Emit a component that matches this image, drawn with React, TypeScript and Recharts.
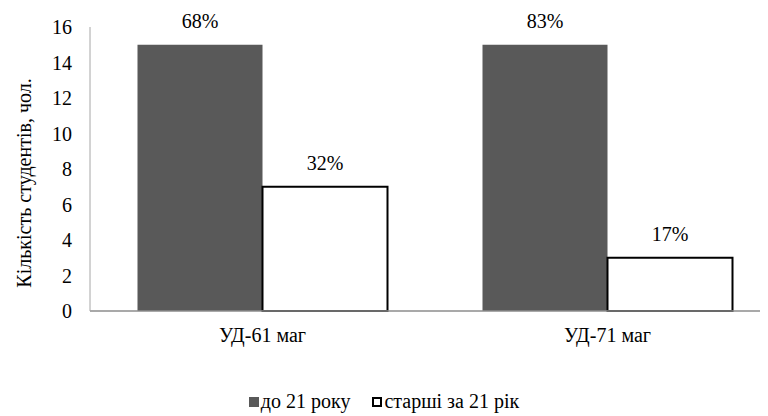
import React from 'react';
import { BarChart, Bar, XAxis, YAxis, LabelList, Legend } from 'recharts';

const categories = ['УД-61 маг', 'УД-71 маг'];
const under21 = [15, 15];
const over21 = [7, 3];
const under21Pct = ['68%', '83%'];
const over21Pct = ['32%', '17%'];
const yTicks = [0, 2, 4, 6, 8, 10, 12, 14, 16];
const seriesNames = ['до 21 року', 'старші за 21 рік'];
const yAxisTitle = 'Кількість студентів, чол.';

const data = categories.map((c, i) => ({
  name: c,
  a: under21[i],
  b: over21[i],
  pa: under21Pct[i],
  pb: over21Pct[i],
}));

const FONT = 'Liberation Serif';
const DARK = '#595959';

const renderLegend = (props: any) => {
  const payload = props.payload || [];
  return (
    <div
      style={{
        display: 'flex',
        justifyContent: 'center',
        fontFamily: FONT,
        fontSize: 20,
        color: '#000',
        lineHeight: '23px',
      }}
    >
      {payload.map((e: any, i: number) => (
        <div key={i} style={{ display: 'flex', alignItems: 'center', marginRight: i === 0 ? 22 : 0 }}>
          <span
            style={{
              display: 'inline-block',
              width: 10,
              height: 10,
              background: i === 0 ? DARK : '#fff',
              border: i === 0 ? 'none' : '2px solid #000',
              boxSizing: 'border-box',
              marginRight: 2,
            }}
          />
          <span style={{ fontFamily: FONT }}>{e.value}</span>
        </div>
      ))}
    </div>
  );
};

export default function App() {
  return (
    <div style={{ fontFamily: FONT }}>
      <BarChart
        width={760}
        height={408}
        data={data}
        margin={{ top: 19, right: -12, bottom: 0, left: 0 }}
        barCategoryGap={47.5}
        barGap={0}
      >
        <XAxis
          dataKey="name"
          height={105}
          axisLine={{ stroke: '#8c8c8c', strokeWidth: 1.5 }}
          tickLine={false}
          tickSize={0}
          tickMargin={17}
          tick={{ fontFamily: FONT, fontSize: 20, fill: '#000' }}
        />
        <YAxis
          width={82}
          domain={[0, 16]}
          ticks={yTicks}
          interval={0}
          axisLine={{ stroke: '#a6a6a6', strokeWidth: 1 }}
          tickLine={false}
          tickSize={0}
          tickMargin={18}
          tick={{ fontFamily: FONT, fontSize: 20, fill: '#000' }}
          label={{
            content: () => (
              <text
                x={23}
                y={175}
                transform="rotate(-90 23 175)"
                textAnchor="middle"
                fontFamily={FONT}
                fontSize={20}
                fill="#000"
              >
                {yAxisTitle}
              </text>
            ),
          }}
        />
        <Legend
          verticalAlign="middle"
          align="center"
          layout="horizontal"
          content={renderLegend}
          wrapperStyle={{ top: 382, left: -8, width: 768 }}
        />
        <Bar dataKey="a" name={seriesNames[0]} fill={DARK} isAnimationActive={false}>
          <LabelList dataKey="pa" position="top" offset={17} fontFamily={FONT} fontSize={20} fill="#000" />
        </Bar>
        <Bar dataKey="b" name={seriesNames[1]} fill="#fff" stroke="#000" strokeWidth={2} isAnimationActive={false}>
          <LabelList dataKey="pb" position="top" offset={17} fontFamily={FONT} fontSize={20} fill="#000" />
        </Bar>
      </BarChart>
    </div>
  );
}
